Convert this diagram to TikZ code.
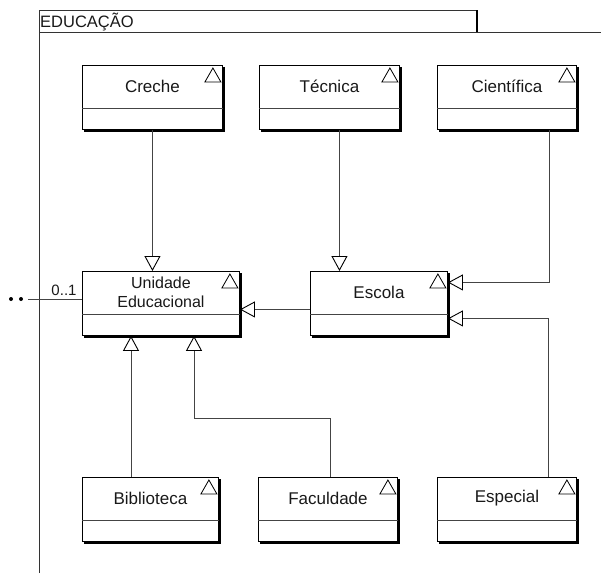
\documentclass[tikz,border=0pt]{standalone}
\usepackage{fontspec}
\setmainfont{Liberation Sans}
\usetikzlibrary{calc,arrows.meta}

\definecolor{linegray}{HTML}{444444}
\definecolor{framegray}{HTML}{333333}

\tikzset{
  classbox/.style={draw=black, line width=0.9pt, fill=white, minimum height=64pt,
    inner sep=0pt, anchor=north west},
  classname/.style={font=\fontsize{17}{19}\selectfont, align=center, inner sep=0pt, text=black!90},
  gen/.style={draw=linegray, line width=0.9pt,
    -{Triangle[open, length=15pt, width=16pt, line width=0.9pt, color=black]}},
  assoc/.style={draw=linegray, line width=0.9pt},
  mult/.style={font=\fontsize{15}{18}\selectfont, inner sep=0pt, text=black!90},
  frameline/.style={draw=framegray, line width=1pt},
}

% one UML class: name, left x, top y, width, label
\newcommand{\umlclass}[5]{%
  \node[classbox, minimum width=#4] (#1) at (#2,#3) {};
  \draw[black, line width=1.4pt] ($(#1.north east)+(1,2)$) -- ($(#1.south east)+(1,1)$) -- ($(#1.south west)+(2,1)$);
  \draw[linegray, line width=0.9pt] ($(#1.north west)+(0,43)$) -- ($(#1.north east)+(0,43)$);
  \draw[black, line width=0.8pt, fill=white] ($(#1.north east)+(-18,17)$) -- ($(#1.north east)+(-2,17)$) -- ($(#1.north east)+(-10,3)$) -- cycle;
  \node[classname] (#1-name) at ($(#1.north)+(0,21)$) {#5};
}

\begin{document}
\begin{tikzpicture}[x=1pt, y=-1pt]
  \useasboundingbox (0,0) rectangle (601,573);
  \fill[white] (0,0) rectangle (601,573);

  % package frame
  \draw[frameline] (39,573) -- (39,10) -- (477,10);
  \draw[black, line width=1.4pt] (477,10) -- (477,32);
  \draw[frameline] (39,32) -- (601,32);
  \node[anchor=west, inner sep=0pt, font=\fontsize{16.5}{19}\selectfont, text=black!90] (pkg) at (40,22) {EDUCAÇÃO};

  % classes
  \umlclass{creche}{82}{65}{140pt}{Creche}
  \umlclass{tecnica}{259}{65}{140pt}{Técnica}
  \umlclass{cientifica}{437}{65}{139pt}{Científica}
  \umlclass{unidade}{82}{271}{157pt}{\fontsize{16}{19}\selectfont Unidade\\\fontsize{16}{19}\selectfont Educacional}
  \umlclass{escola}{310}{271}{137pt}{Escola}
  \umlclass{biblioteca}{82}{477}{136pt}{Biblioteca}
  \umlclass{faculdade}{258}{477}{139pt}{Faculdade}
  \umlclass{especial}{437}{477}{139pt}{Especial}

  % generalisations
  \draw[gen] (creche.south) -- (creche.south |- unidade.north);
  \draw[gen] ([xshift=10pt]tecnica.south) -- ([xshift=10pt]tecnica.south |- escola.north);
  \draw[gen] ([xshift=-27pt]cientifica.south east) |- ([yshift=21pt]escola.east);
  \draw[gen] ([yshift=-6pt]escola.west) -- ([yshift=-6pt]unidade.east);
  \draw[gen] ([xshift=-28pt]especial.north east) |- ([yshift=-15pt]escola.east);
  \draw[gen] ([xshift=49pt]biblioteca.north west) -- ([xshift=49pt]biblioteca.north west |- unidade.south);
  \coordinate (fbend) at (194,418);
  \draw[gen] ([xshift=2pt]faculdade.north) |- (fbend) -- (fbend |- unidade.south);

  % association leaving the package
  \coordinate (assocend) at (28,299);
  \draw[assoc] (unidade.west |- assocend) -- (assocend);
  \node[mult] (m01) at (64,290) {0..1};
  \fill[black] ($(assocend)+(-7,0)$) circle (2);
  \fill[black] ($(assocend)+(-17,0)$) circle (2);
\end{tikzpicture}
\end{document}
